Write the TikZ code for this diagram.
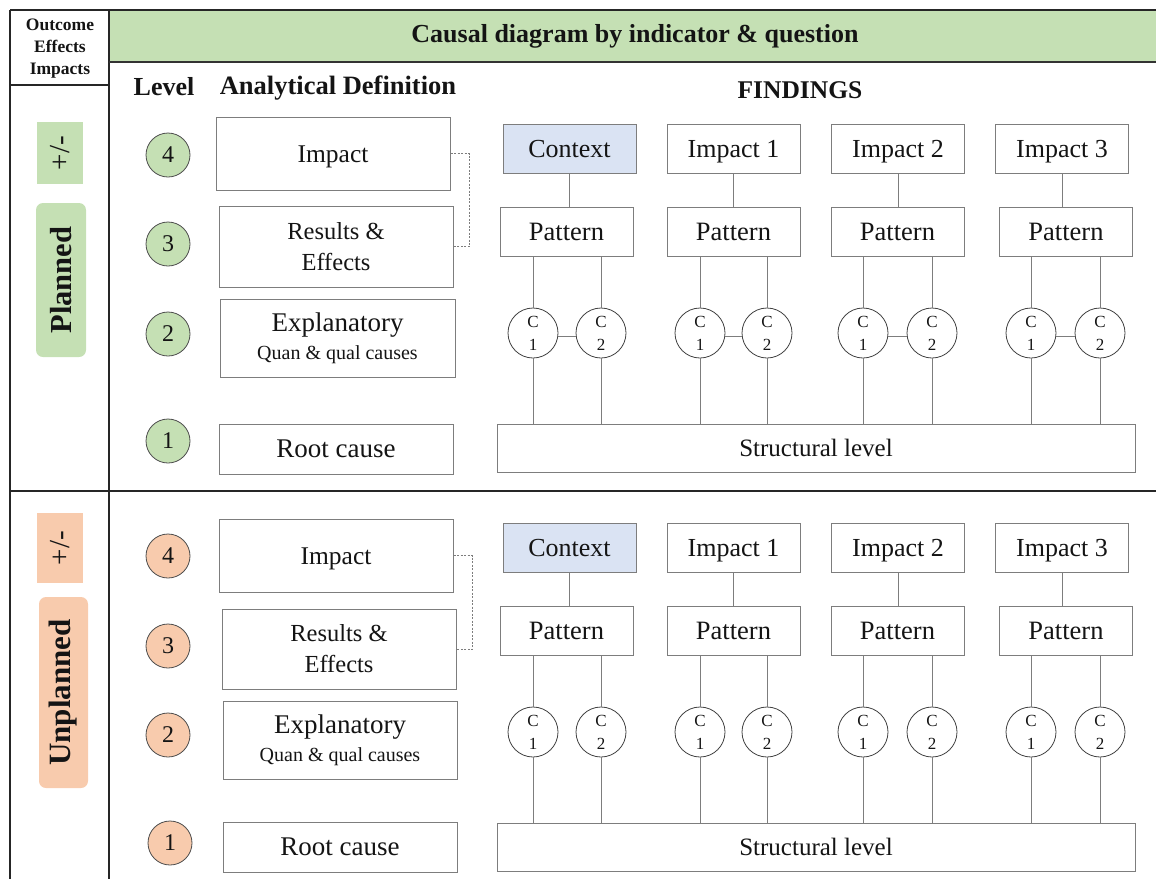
\documentclass[tikz,border=0pt]{standalone}
\usepackage{fontspec}
\setmainfont{Liberation Serif}
\newcommand\fsz[2]{\fontsize{#1}{#2}\selectfont}
% rectangle node given by its corners: name, x1, y1, x2, y2, style, text
\newcommand\rbox[7]{%
  \node[#6, minimum width={((#4)-(#2))*1pt}, minimum height={((#5)-(#3))*1pt}]
    (#1) at ({((#2)+(#4))/2},{((#3)+(#5))/2}) {#7};}
\definecolor{hdrgreen}{RGB}{197,224,180}
\definecolor{lvgreen}{RGB}{197,224,180}
\definecolor{lvorange}{RGB}{248,203,173}
\definecolor{ctxblue}{RGB}{218,227,243}
\definecolor{boxline}{RGB}{125,125,125}
\definecolor{ink}{RGB}{20,20,20}
\begin{document}
\begin{tikzpicture}[x=1pt,y=-1pt,
  defbox/.style={draw=boxline, line width=1pt, inner sep=0pt, text=ink, align=center, fill=white},
  oneline/.style={text height=17pt, text depth=0pt},
  lvl/.style={circle, draw=black!70, line width=0.8pt, minimum size=44pt, inner sep=0pt, text=ink, font=\fsz{24}{26}},
  ccirc/.style={circle, draw=black!75, line width=0.8pt, minimum size=50pt, inner sep=0pt, align=center, text=ink, font=\fsz{17}{23}},
  link/.style={draw=boxline, line width=1pt},
  dlink/.style={draw=boxline, line width=0.9pt, dash pattern=on 2pt off 1.5pt},
  tline/.style={draw=black!85, line width=1.5pt},
  headtxt/.style={text=ink, font=\bfseries\fsz{26}{30}},
  sidetag/.style={rotate=90, inner sep=0pt, text=ink},
]
\useasboundingbox (0,0) rectangle (1156,879);

% ---- table frame ----
\fill[hdrgreen] (110,11) rectangle (1156,61);
\draw[tline] (10,10) -- (1156,10);
\draw[tline] (10,10) -- (10,879);
\draw[tline] (109,10) -- (109,879);
\draw[tline] (10,85) -- (109,85);
\draw[draw=black!80, line width=2.2pt] (109,62) -- (1156,62);
\draw[tline] (10,491) -- (1156,491);

\node[text=ink, align=center, font=\bfseries\fsz{17.5}{22}] (corner) at (60,49) {Outcome\\Effects\\Impacts};
\node[headtxt] (title) at (635,36) {Causal diagram by indicator \& question};
\node[headtxt] (hlevel) at (164,87) {Level};
\node[headtxt, font=\bfseries\fsz{26.5}{30}] (hdef) at (338,88) {Analytical Definition};
\node[headtxt, font=\bfseries\fsz{25.5}{30}] (hfind) at (800,90) {FINDINGS};

% ---- side tags ----
\node[sidetag, fill=lvgreen, minimum width=62pt, minimum height=46pt, font=\fsz{29}{30}] (ptag) at (60,153) {+/-};
\node[sidetag, fill=lvgreen, rounded corners=7pt, minimum width=154pt, minimum height=50pt, font=\bfseries\fsz{30.5}{30}] (pname) at (61,280) {Planned};
\node[sidetag, fill=lvorange, minimum width=70pt, minimum height=46pt, font=\fsz{29}{30}] (utag) at (60,548) {+/-};
\node[sidetag, fill=lvorange, rounded corners=7pt, minimum width=191pt, minimum height=49pt, font=\bfseries\fsz{31}{30}] (uname) at (63.5,692.5) {Unplanned};

% ---- levels and analytical definitions (planned) ----
\node[lvl, fill=lvgreen] (pl4) at (168,155) {4};
\node[lvl, fill=lvgreen] (pl3) at (168,244) {3};
\node[lvl, fill=lvgreen] (pl2) at (168,334) {2};
\node[lvl, fill=lvgreen] (pl1) at (168,441) {1};
\rbox{pimp}{216}{117}{450}{190}{defbox, oneline, font=\fsz{25.5}{30}}{Impact}
\rbox{pres}{219}{206}{453}{287}{defbox, font=\fsz{24.5}{31}}{Results \&\\ Effects}
\rbox{pexp}{220}{299}{455}{377}{defbox, font=\fsz{27}{28}}{Explanatory\\{\fsz{20}{28}Quan \& qual causes}}
\rbox{proot}{219}{424}{453}{474}{defbox, oneline, font=\fsz{27}{30}}{Root cause}
\draw[dlink] (pimp.east) -- ++(19,0) |- (pres.east);

% ---- levels and analytical definitions (unplanned) ----
\node[lvl, fill=lvorange] (ul4) at (168,556) {4};
\node[lvl, fill=lvorange] (ul3) at (168,646) {3};
\node[lvl, fill=lvorange] (ul2) at (168,735) {2};
\node[lvl, fill=lvorange] (ul1) at (170,843) {1};
\rbox{uimp}{219}{519}{453}{592}{defbox, oneline, font=\fsz{25.5}{30}}{Impact}
\rbox{ures}{222}{609}{456}{689}{defbox, font=\fsz{24.5}{31}}{Results \&\\ Effects}
\rbox{uexp}{223}{701}{457}{779}{defbox, font=\fsz{27}{28}}{Explanatory\\{\fsz{20}{28}Quan \& qual causes}}
\rbox{uroot}{223}{822}{457}{872}{defbox, oneline, font=\fsz{27}{30}}{Root cause}
\draw[dlink] (uimp.east) -- ++(19,0) |- (ures.east);

% ---- findings: #1 name prefix, #2 vertical shift ----
\newcommand\findings[2]{%
  \rbox{#1st}{497}{424+#2}{1135}{472+#2}{defbox, oneline, font=\fsz{25}{30}}{Structural level}
  \foreach \k/\tx/\lab/\fc/\px/\ca/\cb in
     {1/569.5/Context/ctxblue/566.5/533/601,
      2/733.5/Impact 1/white/733.5/700/767,
      3/898/Impact 2/white/897.5/863/932,
      4/1062/Impact 3/white/1066/1031/1100}{
    \node[defbox, oneline, fill=\fc, minimum width=133pt, minimum height=49pt, font=\fsz{26}{30}]
      (#1t\k) at (\tx,149+#2) {\lab};
    \node[defbox, oneline, minimum width=133pt, minimum height=49pt, font=\fsz{26.5}{30}]
      (#1p\k) at (\px,232+#2) {Pattern};
    \node[ccirc] (#1a\k) at (\ca,333+#2) {C\\1};
    \node[ccirc] (#1b\k) at (\cb,333+#2) {C\\2};
    \draw[link] (#1t\k.south) -- (#1t\k.south |- #1p\k.north);
    \draw[link] (#1a\k.north |- #1p\k.south) -- (#1a\k.north);
    \draw[link] (#1b\k.north |- #1p\k.south) -- (#1b\k.north);
    \draw[link] (#1a\k.south) -- (#1a\k.south |- #1st.north);
    \draw[link] (#1b\k.south) -- (#1b\k.south |- #1st.north);
  }}
\findings{f}{0}
\findings{g}{399}
% planned causes are linked to each other
\foreach \k in {1,2,3,4}{\draw[link] ([yshift=-3pt]fa\k.east) -- ([yshift=-3pt]fa\k.east -| fb\k.west);}
\end{tikzpicture}
\end{document}
